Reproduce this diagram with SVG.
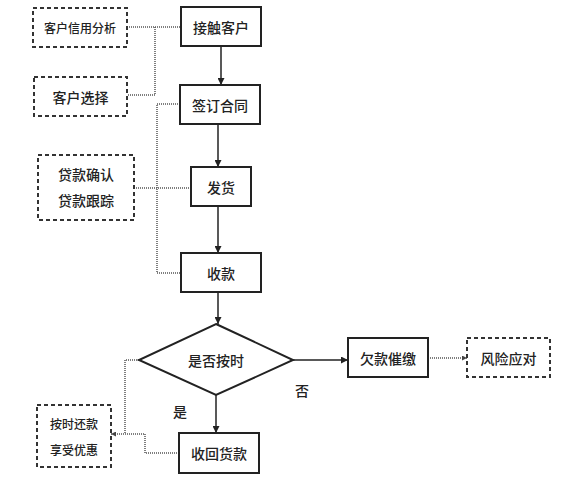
<svg xmlns="http://www.w3.org/2000/svg" width="579" height="483" viewBox="0 0 579 483">
<style>
.box{fill:#fff;stroke:#222;stroke-width:2}
.dbox{fill:#fff;stroke:#333;stroke-width:2;stroke-dasharray:4 3}
.t{font-family:"Noto Sans CJK SC",sans-serif;font-size:14px;font-weight:500;fill:#222;text-anchor:middle;dominant-baseline:central}
.ts{font-family:"Noto Sans CJK SC",sans-serif;font-size:12px;font-weight:500;fill:#222;text-anchor:middle;dominant-baseline:central}
.ln{fill:none;stroke:#222;stroke-width:1.5}
.dl{fill:none;stroke:#555;stroke-width:1.5;stroke-dasharray:1 1}
</style>
<defs>
<marker id="ah" viewBox="0 0 10 10" refX="10" refY="5" markerWidth="7" markerHeight="7" orient="auto" markerUnits="userSpaceOnUse"><path d="M0,0 L10,5 L0,10 z" fill="#222"/></marker>
<marker id="ahs" viewBox="0 0 10 10" refX="10" refY="5" markerWidth="5" markerHeight="5" orient="auto" markerUnits="userSpaceOnUse"><path d="M0,0 L10,5 L0,10 z" fill="#444"/></marker>
</defs>
<rect width="579" height="483" fill="#fff"/>
<g id="connectors">
<path class="ln" d="M221,46 V85" marker-end="url(#ah)"/>
<path class="ln" d="M218,124 V167" marker-end="url(#ah)"/>
<path class="ln" d="M218,206 V253" marker-end="url(#ah)"/>
<path class="ln" d="M218,292 V324" marker-end="url(#ah)"/>
<path class="ln" d="M293,360 H348" marker-end="url(#ah)"/>
<path class="ln" d="M216,395 V433" marker-end="url(#ah)"/>
<path class="dl" d="M127,27 H181 M155,27 V95 H127"/>
<path class="dl" d="M180,104 H157 V273 H181 M134,188 H191"/>
<path class="dl" d="M428,358 H467" marker-end="url(#ahs)"/>
<path class="dl" d="M139,360 H125 V434 M179,453 H145 V434 H111" marker-end="url(#ahs)"/>
</g>
<g id="n1"><rect class="dbox" x="33" y="8" width="94" height="39"/><text class="ts" x="80" y="27.5">客户信用分析</text></g>
<g id="n2"><rect class="box" x="181" y="7" width="80" height="39"/><text class="t" x="221" y="26.5">接触客户</text></g>
<g id="n3"><rect class="dbox" x="34" y="77" width="93" height="39"/><text class="t" x="80.5" y="96.5">客户选择</text></g>
<g id="n4"><rect class="box" x="180" y="85" width="80" height="39"/><text class="t" x="220" y="104.5">签订合同</text></g>
<g id="n5"><rect class="dbox" x="38" y="155" width="96" height="65"/><text class="t" x="86" y="174">贷款确认</text><text class="t" x="86" y="200">贷款跟踪</text></g>
<g id="n6"><rect class="box" x="191" y="167" width="60" height="39"/><text class="t" x="221" y="186.5">发货</text></g>
<g id="n7"><rect class="box" x="181" y="253" width="80" height="39"/><text class="t" x="221" y="272.5">收款</text></g>
<g id="n8"><path class="box" d="M216,324 L293,360 L216,395 L139,360 Z"/><text class="t" x="216" y="359.5">是否按时</text></g>
<g id="n9"><rect class="box" x="348" y="338" width="80" height="39"/><text class="t" x="388" y="357.5">欠款催缴</text></g>
<g id="n10"><rect class="dbox" x="467" y="338" width="83" height="39"/><text class="t" x="508.5" y="357.5">风险应对</text></g>
<g id="n11"><rect class="box" x="179" y="433" width="80" height="40"/><text class="t" x="219" y="453">收回货款</text></g>
<g id="n12"><rect class="dbox" x="37" y="405" width="74" height="62"/><text class="ts" x="74" y="423">按时还款</text><text class="ts" x="74" y="449">享受优惠</text></g>
<g id="labels"><text class="t" x="302" y="390">否</text><text class="t" x="180" y="411">是</text></g>
</svg>
